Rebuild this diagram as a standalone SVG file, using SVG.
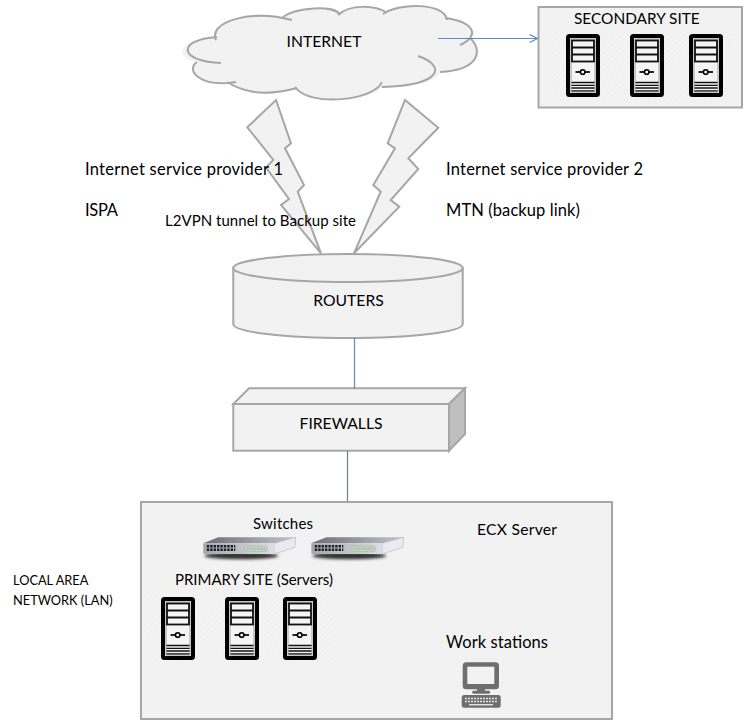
<svg xmlns="http://www.w3.org/2000/svg" width="744" height="721" viewBox="0 0 744 721">
  <style>
    text { font-family: "Lato", "Liberation Sans", sans-serif; font-size: 15px; fill: #000; }
    .small { font-size: 12.8px; }
    .mid { font-size: 15.700px; }
    .large { font-size: 16.500px; }
    .shape { fill: #f2f2f2; stroke: #a6a6a6; stroke-width: 2; }
    .edge { fill: none; stroke: #a6a6a6; stroke-width: 2; }
    .link { fill: none; stroke: #5b8bc4; stroke-width: 1.2; }
    .backdrop { fill: url(#hatch); }
  </style>
  <defs>
    <pattern id="hatch" width="4" height="4" patternUnits="userSpaceOnUse" patternTransform="rotate(45)">
      <rect width="4" height="4" fill="#f3f3f3"/>
      <rect width="1" height="4" fill="#eeeeee"/>
    </pattern>
    <marker id="open-arrow" markerWidth="12" markerHeight="10" refX="9" refY="4.500" orient="auto" markerUnits="userSpaceOnUse">
      <path d="M1 0.500 L9 4.500 L1 8.500" fill="none" stroke="#5b8bc4" stroke-width="1.200"/>
    </marker>
    <g id="server">
      <rect x="2" y="2" width="30" height="59" rx="1.500" fill="#f4f4f4" stroke="#000" stroke-width="4"/>
      <rect x="5" y="5" width="24" height="53" fill="none" stroke="#9a9a9a" stroke-width="1"/>
      <rect x="6" y="6.500" width="22" height="21" fill="#f4f4f4" stroke="#111" stroke-width="1.800"/>
      <path d="M6 13.500H28M6 20.500H28" stroke="#111" stroke-width="1.800"/>
      <path d="M9.500 38H24" stroke="#000" stroke-width="1.700"/>
      <circle cx="16.700" cy="38" r="2.300" fill="#f4f4f4" stroke="#000" stroke-width="1.600"/>
      <path d="M5.500 48.500H28.500M5.500 51.300H28.500M5.500 54H28.500M5.500 56.800H28.500" stroke="#111" stroke-width="1.300"/>
    </g>
    <linearGradient id="switch-front" x1="0" y1="0" x2="1" y2="0">
      <stop offset="0" stop-color="#a4a4ac"/>
      <stop offset="1" stop-color="#dedee6"/>
    </linearGradient>
    <linearGradient id="switch-top" x1="0" y1="0" x2="1" y2="0">
      <stop offset="0" stop-color="#6c6c74"/>
      <stop offset="1" stop-color="#c4c4cc"/>
    </linearGradient>
    <filter id="soft" x="-20%" y="-150%" width="140%" height="400%">
      <feGaussianBlur stdDeviation="1.800"/>
    </filter>
    <g id="switch">
      <ellipse cx="38" cy="18.500" rx="37" ry="3.500" fill="#333" filter="url(#soft)"/>
      <path d="M0 6L15 0H92.400L71 6Z" fill="url(#switch-top)"/>
      <path d="M71 6L92.400 0L91.700 10L71 16.700Z" fill="#eaeaf0" stroke="#a8a8b0" stroke-width="0.500"/>
      <path d="M0 6H71V16.700H1Q0 16.700 0 15Z" fill="url(#switch-front)"/>
      <path d="M3.500 9H32M3.500 12.500H32" stroke="#1e1e24" stroke-width="2.600" stroke-dasharray="2.400 1"/>
      <rect x="41" y="8.700" width="23" height="5.600" rx="1.500" fill="#c8d6c4" stroke="#a5b5a0" stroke-width="0.600"/>
      <path d="M43 11.500H62" stroke="#a8c0a4" stroke-width="2.400" stroke-dasharray="1.400 0.800"/>
    </g>
  </defs>

  <g id="internet">
    <path d="M216 40C208 22 250 9 283 17C295 8 335 4 340 15C350 4 375 5 385 14C400 2 445 3 446 19C475 22 480 36 470 38C483 50 480 70 440 72C438 80 420 87 382 87C375 100 310 108 296 88C260 98 240 90 229 82C200 88 185 70 197 62C175 58 175 40 217 37Z" fill="#f2f2f2"/>
    <path class="edge" d="M216 40C208 22 250 9 292 20M283 17C295 8 335 4 340 15M338 15C350 4 375 5 387 13M383 14C400 2 445 3 447 20M445 18C475 22 480 36 460 45M470 38C483 50 480 70 440 72M418 56C445 65 445 85 382 87M382 82C375 100 310 108 295 87M297 88C260 98 240 90 227 82M236 82C200 88 185 70 197 62M221 63C180 62 175 40 217 37"/>
    <text class="mid" x="324" y="47" text-anchor="middle">INTERNET</text>
  </g>

  <g id="secondary-site">
    <rect class="shape" x="538.500" y="7" width="203.500" height="100.500"/>
    <rect class="backdrop" x="551" y="32" width="180" height="68"/>
    <text x="574" y="24" style="font-size:15.400px">SECONDARY SITE</text>
    <use href="#server" x="566" y="34"/>
    <use href="#server" x="630" y="34"/>
    <use href="#server" x="689" y="34"/>
  </g>

  <g id="isp-1-link">
    <path class="shape" d="M276 100L291 143.300L285 148.300L304 185L297.700 191.700L321 253.300L281 205L289 199L266 167.500L273.300 160L247.300 127.300Z"/>
  </g>
  <g id="isp-2-link">
    <path class="shape" d="M405 100L438.300 127.700L408.300 158.300L418.300 169L390.700 200L399.300 206.700L354 253.300L380.700 191.700L373.300 185L395 148.300L387.700 143.300Z"/>
  </g>

  <g id="routers">
    <path class="shape" d="M233.300 268V324C233.300 332 285 338 348 338C411 338 462.700 332 462.700 324V268Z"/>
    <ellipse class="shape" cx="348" cy="268" rx="114.700" ry="14"/>
    <text class="mid" x="348.500" y="306" text-anchor="middle">ROUTERS</text>
  </g>

  <g id="firewalls">
    <path class="shape" d="M233.300 404L249 388.300H465L449 404Z"/>
    <path class="shape" style="fill:#bfbfbf" d="M449 404L465 388.300V434L449 450.700Z"/>
    <rect class="shape" x="233.300" y="404" width="215.700" height="46.700"/>
    <text class="mid" x="341" y="429" text-anchor="middle">FIREWALLS</text>
  </g>

  <g id="connectors">
    <path class="link" d="M438 38.500H537.500" marker-end="url(#open-arrow)"/>
    <path class="link" d="M354.500 338V388.500"/>
    <path d="M347.500 451V501.500" fill="none" stroke="#6f7f8f" stroke-width="1.200"/>
  </g>

  <g id="isp-labels">
    <text class="large" x="85" y="175" textLength="198">Internet service provider 1</text>
    <text class="large" x="85" y="216" textLength="33">ISPA</text>
    <text x="165" y="226" textLength="191">L2VPN tunnel to Backup site</text>
    <text class="large" x="446" y="175" textLength="197">Internet service provider 2</text>
    <text class="large" x="446" y="216" textLength="134">MTN (backup link)</text>
  </g>

  <g id="lan">
    <rect class="shape" x="141" y="502" width="471" height="217"/>
    <rect class="backdrop" x="144" y="595" width="190" height="67"/>
    <text x="253" y="529" textLength="60">Switches</text>
    <text class="mid" x="477" y="535" textLength="80">ECX Server</text>
    <text x="175" y="585" textLength="158">PRIMARY SITE (Servers)</text>
    <text class="large" x="446" y="648" textLength="102">Work stations</text>
  </g>

  <g id="lan-label">
    <text class="small" x="13" y="585">LOCAL AREA</text>
    <text class="small" x="13" y="605">NETWORK (LAN)</text>
  </g>

  <g id="switches">
    <use href="#switch" x="203.300" y="537.300"/>
    <use href="#switch" x="311.300" y="537.300"/>
  </g>

  <g id="primary-servers">
    <use href="#server" x="161" y="597"/>
    <use href="#server" x="225" y="597"/>
    <use href="#server" x="283" y="597"/>
  </g>

  <g id="workstation">
    <rect x="462.700" y="662.300" width="36.300" height="27" rx="3.500" fill="#6e6e6e"/>
    <rect x="467.300" y="666.700" width="27" height="17.300" fill="#f2f2f2"/>
    <rect x="477" y="688" width="8" height="3.500" fill="#6e6e6e"/>
    <rect x="472.300" y="690.700" width="17.700" height="3" rx="1.200" fill="#6e6e6e"/>
    <rect x="461.700" y="695" width="39" height="12.700" rx="2.500" fill="#6e6e6e"/>
    <path d="M465 698.500H497.500M465 701.500H497.500" stroke="#e4e4e4" stroke-width="1.400" stroke-dasharray="2 1"/>
    <path d="M469 704.700H493" stroke="#e4e4e4" stroke-width="1.400"/>
  </g>
</svg>
